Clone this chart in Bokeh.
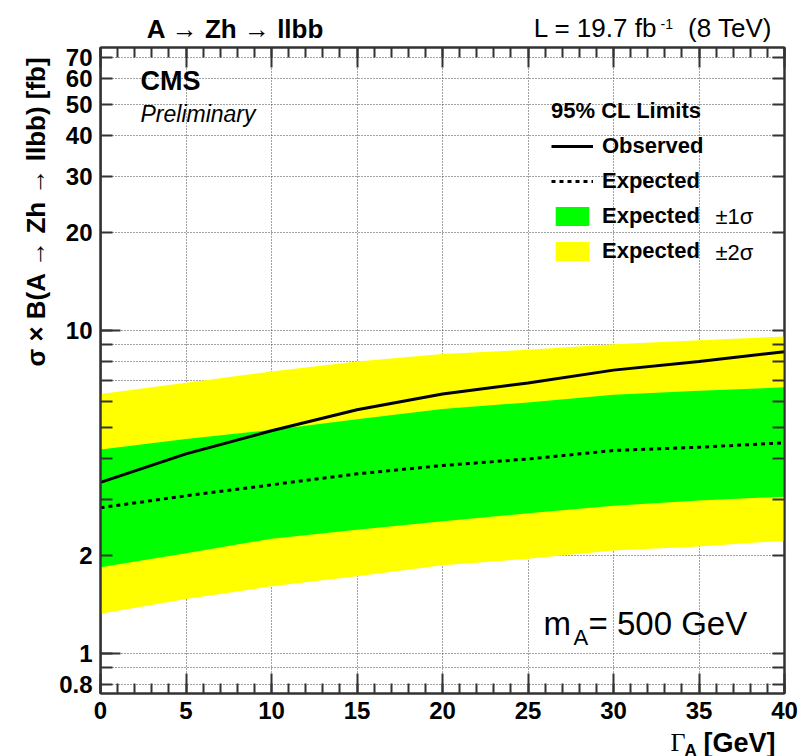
import math
from bokeh.plotting import figure
from bokeh.layouts import column, row
from bokeh.models import (FixedTicker, LinearAxis, LogAxis, Label,
                          Legend, LegendItem, Range1d)
from bokeh.embed import file_html
from bokeh.resources import INLINE

# ---- data ----
gamma = [0, 5, 10, 15, 20, 25, 30, 35, 40]
observed = [3.38, 4.14, 4.88, 5.67, 6.34, 6.86, 7.52, 8.00, 8.57]
expected = [2.82, 3.07, 3.32, 3.59, 3.81, 3.99, 4.24, 4.34, 4.48]
exp_1s_lo = [1.845, 2.04, 2.26, 2.41, 2.56, 2.71, 2.86, 2.97, 3.05]
exp_1s_hi = [4.27, 4.60, 4.91, 5.30, 5.70, 5.97, 6.31, 6.49, 6.65]
exp_2s_lo = [1.324, 1.47, 1.61, 1.73, 1.87, 1.96, 2.08, 2.14, 2.23]
exp_2s_hi = [6.34, 6.87, 7.45, 8.00, 8.43, 8.69, 9.05, 9.31, 9.55]

x_major_ticks = [0, 5, 10, 15, 20, 25, 30, 35, 40]
x_minor_ticks = list(range(0, 41))
y_major_ticks = [0.8, 1, 2, 10, 20, 30, 40, 50, 60, 70]
y_major_labels = ["0.8", "1", "2", "10", "20", "30", "40", "50", "60", "70"]
y_minor_ticks = [0.9, 3, 4, 5, 6, 7, 8, 9]
y_long_ticks = [1, 10]

FONT = "Liberation Sans"
AX = "#333333"
X0, X1 = 0, 40
Y0, Y1 = 0.75, 75

TOTAL_W, TOTAL_H = 800, 756
LEFT_W = 56
TOP_H, BOT_H = 42, 28
FRAME_W, FRAME_H = 684, 646
FRAME_LEFT, FRAME_TOP = 100, 47   # page position of the frame's top-left corner
RIGHT_W = TOTAL_W - LEFT_W
MAIN_H = TOTAL_H - TOP_H - BOT_H

p = figure(width=RIGHT_W, height=MAIN_H, y_axis_type="log",
           x_range=Range1d(X0, X1), y_range=Range1d(Y0, Y1),
           output_backend="svg", toolbar_location=None,
           min_border_left=FRAME_LEFT - LEFT_W,
           min_border_right=RIGHT_W - (FRAME_LEFT - LEFT_W) - FRAME_W,
           min_border_top=FRAME_TOP - TOP_H,
           min_border_bottom=MAIN_H - (FRAME_TOP - TOP_H) - FRAME_H)
p.background_fill_color = "white"
p.border_fill_color = "white"
p.outline_line_color = AX
p.outline_line_width = 2


def style_axis(ax, labels=True, major_in=20, minor_in=10):
    ax.axis_line_color = AX
    ax.axis_line_width = 2
    ax.major_tick_line_color = AX
    ax.major_tick_line_width = 2
    ax.minor_tick_line_color = AX
    ax.minor_tick_line_width = 2
    ax.major_tick_in = major_in
    ax.major_tick_out = 0
    ax.minor_tick_in = minor_in
    ax.minor_tick_out = 0
    if labels:
        ax.major_label_text_font = FONT
        ax.major_label_text_font_style = "bold"
        ax.major_label_text_font_size = "24px"
        ax.major_label_text_color = "black"
    else:
        ax.major_label_overrides = {t: "" for t in ax.ticker.ticks}
        ax.major_label_standoff = 0


xax = p.xaxis[0]
xax.ticker = FixedTicker(ticks=x_major_ticks, minor_ticks=x_minor_ticks)
style_axis(xax)
xax.major_label_standoff = 8

yax = p.yaxis[0]
yax.ticker = FixedTicker(ticks=y_major_ticks, minor_ticks=y_minor_ticks)
yax.major_label_overrides = {t: s for t, s in zip(y_major_ticks, y_major_labels)}
style_axis(yax, major_in=12, minor_in=12)
yax.major_label_standoff = 8

top = LinearAxis(ticker=FixedTicker(ticks=x_major_ticks, minor_ticks=x_minor_ticks))
style_axis(top, labels=False)
p.add_layout(top, "above")

right = LogAxis(ticker=FixedTicker(ticks=y_major_ticks, minor_ticks=y_minor_ticks))
style_axis(right, labels=False, major_in=12, minor_in=12)
p.add_layout(right, "right")

# longer ticks at the decades on the left
ylong = LogAxis(fixed_location=X0,
                ticker=FixedTicker(ticks=y_long_ticks, minor_ticks=[]))
style_axis(ylong, labels=False, major_in=20, minor_in=0)
p.add_layout(ylong, "left")

# grid
p.xgrid.ticker = FixedTicker(ticks=x_major_ticks)
p.xgrid.grid_line_color = "#444444"
p.xgrid.grid_line_dash = "1 2"
p.xgrid.grid_line_width = 1
p.ygrid.ticker = FixedTicker(ticks=y_major_ticks, minor_ticks=y_minor_ticks)
p.ygrid.grid_line_color = "#444444"
p.ygrid.grid_line_dash = "1 2"
p.ygrid.minor_grid_line_color = "#444444"
p.ygrid.minor_grid_line_dash = "1 2"

# bands and lines
r_y = p.varea(x=gamma, y1=exp_2s_lo, y2=exp_2s_hi, fill_color="#ffff00")
r_g = p.varea(x=gamma, y1=exp_1s_lo, y2=exp_1s_hi, fill_color="#00ff00")
r_exp = p.line(gamma, expected, line_color="black", line_width=3, line_dash="4 4")
r_obs = p.line(gamma, observed, line_color="black", line_width=3)

legend = Legend(items=[
    LegendItem(label="Observed", renderers=[r_obs]),
    LegendItem(label="Expected", renderers=[r_exp]),
    LegendItem(label="Expected", renderers=[r_g]),
    LegendItem(label="Expected", renderers=[r_y]),
], location=(451, 429))
legend.title = "95% CL Limits"
legend.title_text_font = FONT
legend.title_text_font_style = "bold"
legend.title_text_font_size = "22px"
legend.title_text_color = "black"
legend.title_standoff = 9
legend.label_text_font = FONT
legend.label_text_font_style = "bold"
legend.label_text_font_size = "22px"
legend.label_text_color = "black"
legend.glyph_width = 42
legend.glyph_height = 24
legend.label_height = 24
legend.label_standoff = 9
legend.spacing = 9
legend.padding = 0
legend.margin = 0
legend.background_fill_alpha = 0
legend.border_line_alpha = 0
p.add_layout(legend)


def lab(fig, text, sx, sy, size, style="normal", align="left", font=FONT, angle=0):
    fig.add_layout(Label(x=sx, y=sy, x_units="screen", y_units="screen",
                         text=text, text_font=font, text_font_size=size,
                         text_font_style=style, text_align=align,
                         text_baseline="middle", text_color="black",
                         angle=angle))


# texts inside the frame (screen units from the frame's bottom-left)
lab(p, "\u00b11\u03c3", 615, 477, "22px")
lab(p, "\u00b12\u03c3", 615, 441, "22px")
lab(p, "CMS", 40, 613, "27px", "bold")
lab(p, "Preliminary", 40, 580, "23px", "italic")
lab(p, "m", 443, 70.5, "33px")
lab(p, "A", 473, 56.5, "22px")
lab(p, "= 500 GeV", 488, 70.5, "33px")


def text_panel(w, h):
    f = figure(width=w, height=h, x_range=Range1d(0, w), y_range=Range1d(0, h),
               x_axis_type=None, y_axis_type=None,
               output_backend="svg", toolbar_location=None,
               min_border=0, min_border_left=0, min_border_right=0,
               min_border_top=0, min_border_bottom=0)
    f.outline_line_color = None
    f.background_fill_color = "white"
    f.border_fill_color = "white"
    f.grid.visible = False
    return f


# header strip (page y 0..42); its frame is aligned with the main frame (page x 100)
top_fig = text_panel(RIGHT_W, TOP_H)
lab(top_fig, "A \u2192 Zh \u2192 llbb", 235 - FRAME_LEFT, TOP_H - 28.5, "26px", "bold",
    align="center")
lab(top_fig, "L = 19.7 fb", 595 - FRAME_LEFT, TOP_H - 27, "26px", align="center")
lab(top_fig, "-1", 660 - FRAME_LEFT, TOP_H - 23, "14px")
lab(top_fig, "(8 TeV)", 729.5 - FRAME_LEFT, TOP_H - 27, "26px", align="center")

# y title strip (page x 0..56, full height)
left_fig = text_panel(LEFT_W, TOTAL_H)
lab(left_fig, "\u03c3 \u00d7 B(A \u2192 Zh \u2192 llbb) [fb]", 35, TOTAL_H - 211,
    "26px", "bold", align="center", angle=math.pi / 2)

# x title strip (page y 728..756)
bot_fig = text_panel(RIGHT_W, BOT_H)
yb = TOP_H + MAIN_H
lab(bot_fig, "[GeV]", 739 - FRAME_LEFT, BOT_H - (742 - yb), "27px", "bold", align="center")
lab(bot_fig, "\u0393", 685 - FRAME_LEFT, BOT_H - (742 - yb), "26px", align="right",
    font="Liberation Serif")
lab(bot_fig, "A", 684 - FRAME_LEFT, BOT_H - (750 - yb), "17px", "bold")

layout = row(left_fig, column(top_fig, p, bot_fig, spacing=0), spacing=0)
open("out.html", "w").write(file_html(layout, INLINE))
